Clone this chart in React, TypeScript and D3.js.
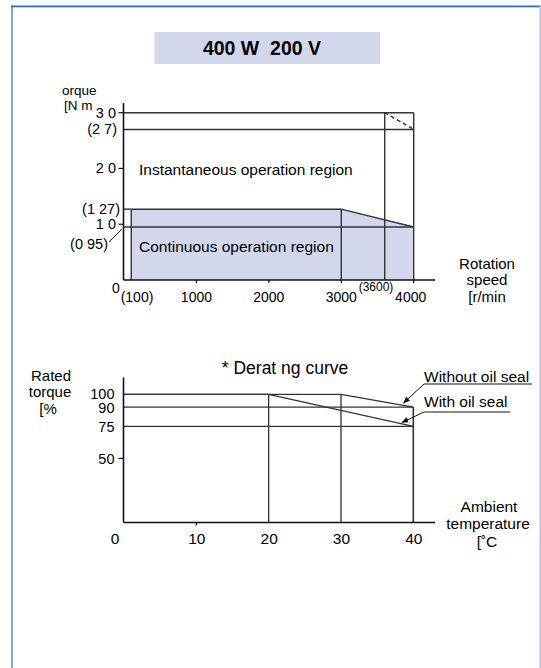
import React from "react";
import * as d3 from "d3";

// ---------- Data ----------
const speedTicks = [1000, 2000, 3000, 4000];
const torqueTickValues = [1.0, 2.0, 3.0];
const torqueTickLabels = ["1 0", "2 0", "3 0"];
// continuous operation region boundary (speed r/min, torque N m)
const contSpeed = [100, 3000, 4000];
const contTorque = [1.27, 1.27, 0.95];
// instantaneous region
const instMaxTorque = 3.0;
const instEndTorque = 2.7;
const instKneeSpeed = 3600;
const maxSpeed = 4000;

// derating curve
const tempTicks = [0, 10, 20, 30, 40];
const ratedTicks = [50, 75, 90, 100];
const withoutSealTemp = [0, 30, 40];
const withoutSealValue = [100, 100, 90];
const withSealTemp = [0, 20, 40];
const withSealValue = [100, 100, 75];

const FONT = "'Liberation Sans', Arial, Helvetica, sans-serif";
const LINE = "#333";

export default function App() {
  // chart 1 scales
  const x1 = d3.scaleLinear().domain([0, 4000]).range([124, 413.7]);
  const y1 = d3.scaleLinear().domain([0, 3]).range([280, 112.7]);
  // chart 2 scales
  const x2 = d3.scaleLinear().domain([0, 40]).range([124, 413.3]);
  const y2 = d3.scaleLinear().domain([0, 100]).range([522.5, 394.3]);

  const contArea = d3
    .area<number>()
    .x((_, i) => x1(contSpeed[i]))
    .y0(y1(0))
    .y1((_, i) => y1(contTorque[i]));
  const contLine = d3
    .line<number>()
    .x((_, i) => x1(contSpeed[i]))
    .y((_, i) => y1(contTorque[i]));

  const withoutLine = d3
    .line<number>()
    .x((_, i) => x2(withoutSealTemp[i]))
    .y((_, i) => y2(withoutSealValue[i]));
  const withLine = d3
    .line<number>()
    .x((_, i) => x2(withSealTemp[i]))
    .y((_, i) => y2(withSealValue[i]));

  const axisX0 = x1(0) - 0.5;

  return (
    <svg
      width={541}
      height={668}
      style={{ position: "absolute", left: 0, top: 0, display: "block", background: "#fff" }}
      fontFamily={FONT}
    >
      <defs>
        <marker id="arr" viewBox="0 0 10 10" refX="9" refY="5" markerWidth="7" markerHeight="7" orient="auto">
          <path d="M0,1 L10,5 L0,9 z" fill="#111" />
        </marker>
      </defs>
      {/* frame */}
      <rect x={11} y={5} width={2} height={663} fill="#82a7d9" />
      <rect x={11} y={5} width={530} height={1} fill="#8fb3e6" />
      <rect x={11} y={6} width={530} height={1.3} fill="#2d6ccf" />
      <rect x={539.5} y={6} width={1.5} height={662} fill="#b4c4dc" />

      {/* title box */}
      <rect x={154.5} y={32} width={225.5} height={32} fill="#d3d7ec" />
      <text
        x={262}
        y={55}
        textAnchor="middle"
        fontSize={19.5}
        fontWeight="bold"
        fill="#000"
        style={{ whiteSpace: "pre" }}
      >
        {"400 W  200 V"}
      </text>

      {/* ---------- Chart 1 ---------- */}
      <path d={contArea(contSpeed) || ""} fill="#d3d7ec" />
      <g stroke={LINE} strokeWidth={1.4} fill="none">
        <path d={contLine(contSpeed) || ""} />
        <line x1={axisX0} x2={x1(contSpeed[0])} y1={y1(contTorque[0])} y2={y1(contTorque[0])} />
        <line x1={axisX0} x2={x1(maxSpeed)} y1={y1(contTorque[2])} y2={y1(contTorque[2])} />
        <line x1={x1(contSpeed[0])} x2={x1(contSpeed[0])} y1={y1(contTorque[0])} y2={y1(0)} />
        <line x1={x1(contSpeed[1])} x2={x1(contSpeed[1])} y1={y1(contTorque[1])} y2={y1(0)} />
        <line x1={x1(instKneeSpeed)} x2={x1(instKneeSpeed)} y1={y1(instMaxTorque)} y2={y1(0)} />
        <line x1={x1(maxSpeed)} x2={x1(maxSpeed)} y1={y1(instMaxTorque)} y2={y1(0)} />
        <line x1={axisX0} x2={x1(maxSpeed)} y1={y1(instMaxTorque)} y2={y1(instMaxTorque)} />
        <line x1={axisX0} x2={x1(maxSpeed)} y1={y1(instEndTorque)} y2={y1(instEndTorque)} />
        <line
          x1={x1(instKneeSpeed)}
          x2={x1(maxSpeed)}
          y1={y1(instMaxTorque)}
          y2={y1(instEndTorque)}
          strokeDasharray="4,3"
        />
      </g>
      <g stroke="#111" strokeWidth={1.6}>
        <line x1={axisX0} x2={axisX0} y1={103} y2={y1(0)} />
        <line x1={axisX0} x2={435} y1={y1(0)} y2={y1(0)} />
      </g>
      <g stroke="#111" strokeWidth={1.2}>
        {torqueTickValues.map((v) => (
          <line key={v} x1={axisX0 - 5} x2={axisX0} y1={y1(v)} y2={y1(v)} />
        ))}
        {speedTicks.map((v) => (
          <line key={v} x1={x1(v)} x2={x1(v)} y1={y1(0)} y2={y1(0) + 3} />
        ))}
      </g>
      <g fontSize={14.5} fill="#000" textAnchor="end">
        {torqueTickValues.map((v, i) => (
          <text key={v} x={axisX0 - 7.5} y={y1(v) + 5}>
            {torqueTickLabels[i]}
          </text>
        ))}
        <text x={117} y={y1(instEndTorque) + 5}>(2 7)</text>
        <text x={120} y={y1(contTorque[0]) + 5}>(1 27)</text>
        <text x={108} y={y1(contTorque[2]) + 21.5}>(0 95)</text>
      </g>
      <line x1={109} y1={242} x2={122} y2={229} stroke="#111" strokeWidth={0.9} />
      <g fontSize={13.5} fill="#000">
        <text x={62} y={95}>orque</text>
        <text x={64} y={110}>[N m</text>
      </g>
      <g fontSize={14} fill="#000" textAnchor="middle">
        <text x={116} y={293}>0</text>
        <text x={137} y={302}>(100)</text>
        {speedTicks.map((v) => (
          <text key={v} x={x1(v) - (v === 4000 ? 3 : 0)} y={302}>
            {v}
          </text>
        ))}
        <text x={376} y={291} fontSize={12}>(3600)</text>
      </g>
      <g fontSize={15} fill="#000" textAnchor="middle">
        <text x={487} y={269}>Rotation</text>
        <text x={487} y={285}>speed</text>
        <text x={487} y={302}>[r/min</text>
      </g>
      <g fontSize={15.5} fill="#000">
        <text x={139} y={175}>Instantaneous operation region</text>
        <text x={139} y={252}>Continuous operation region</text>
      </g>

      {/* ---------- Chart 2 ---------- */}
      <text x={285} y={374} textAnchor="middle" fontSize={17.5} fill="#000">
        * Derat ng curve
      </text>
      <g fontSize={15} fill="#000" textAnchor="middle">
        <text x={51} y={381}>Rated</text>
        <text x={50} y={397}>torque</text>
        <text x={48} y={414}>[%</text>
      </g>
      <g stroke={LINE} strokeWidth={1.3} fill="none">
        <path d={withoutLine(withoutSealTemp) || ""} />
        <path d={withLine(withSealTemp) || ""} />
        <line x1={axisX0} x2={x2(40)} y1={y2(90)} y2={y2(90)} />
        <line x1={axisX0} x2={x2(40)} y1={y2(75)} y2={y2(75)} />
        <line x1={x2(20)} x2={x2(20)} y1={y2(100)} y2={y2(0)} />
        <line x1={x2(30)} x2={x2(30)} y1={y2(100)} y2={y2(0)} />
        <line x1={x2(40)} x2={x2(40)} y1={y2(90)} y2={y2(0)} strokeWidth={1.6} />
      </g>
      <g stroke="#111" strokeWidth={1.6}>
        <line x1={axisX0} x2={axisX0} y1={377.5} y2={y2(0)} />
        <line x1={axisX0} x2={435} y1={y2(0)} y2={y2(0)} />
      </g>
      <g stroke="#111" strokeWidth={1.2}>
        <line x1={axisX0 - 5} x2={axisX0} y1={y2(50)} y2={y2(50)} />
        <line x1={x2(10)} x2={x2(10)} y1={y2(0)} y2={y2(0) + 3} />
      </g>
      <g fontSize={14.5} fill="#000" textAnchor="end">
        {ratedTicks.map((v) => (
          <text key={v} x={114.5} y={y2(v) + (v === 100 ? 4.5 : 5.5)}>
            {v}
          </text>
        ))}
      </g>
      <g fontSize={15.5} fill="#000" textAnchor="middle">
        {tempTicks.map((v) => (
          <text key={v} x={v === 0 ? 115 : x2(v) + 0.5} y={544}>
            {v}
          </text>
        ))}
      </g>
      <g fontSize={15.5} fill="#000" textAnchor="middle">
        <text x={489} y={512}>Ambient</text>
        <text x={488} y={529}>temperature</text>
        <text x={487} y={547}>[˚C</text>
      </g>
      <g fontSize={15.5} fill="#000">
        <text x={424} y={382}>Without oil seal</text>
        <text x={424} y={407}>With oil seal</text>
      </g>
      <g stroke="#111" strokeWidth={1}>
        <line x1={424} x2={532} y1={384} y2={384} />
        <line x1={424} x2={510} y1={412} y2={412} />
        <line x1={424} y1={384} x2={403.5} y2={403} markerEnd="url(#arr)" />
        <line x1={424} y1={412} x2={402} y2={422.5} markerEnd="url(#arr)" />
      </g>
    </svg>
  );
}
